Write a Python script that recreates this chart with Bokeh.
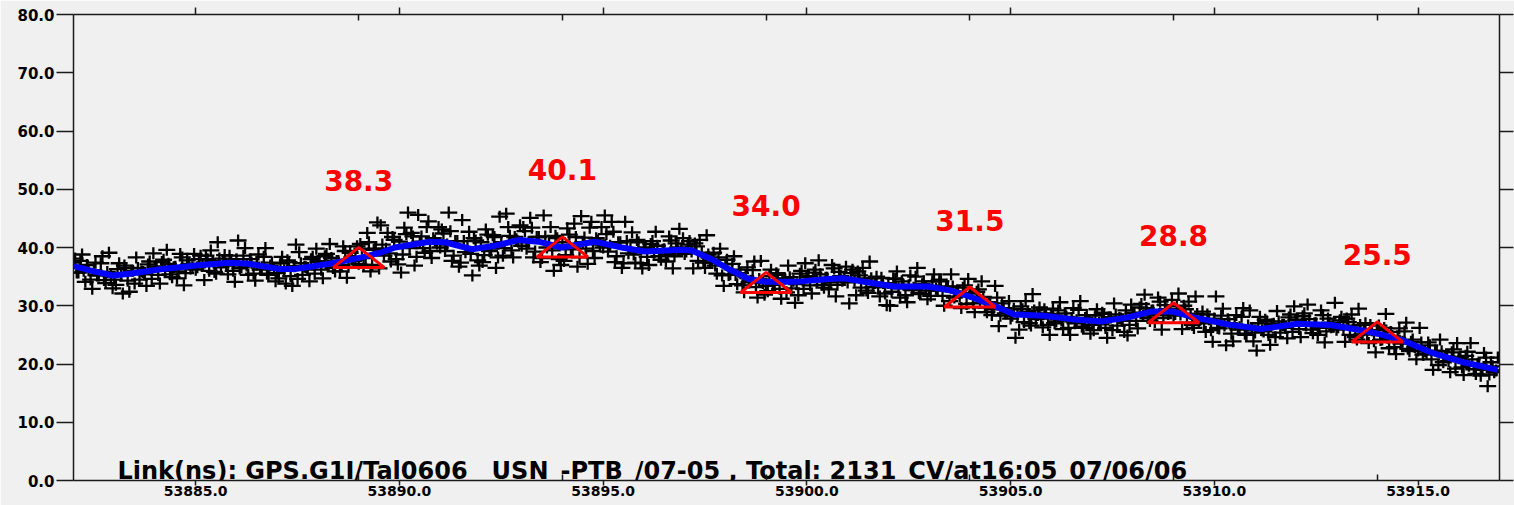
import math
from bokeh.plotting import figure
from bokeh.models import Range1d, LinearAxis, FixedTicker, PrintfTickFormatter, ColumnDataSource
from bokeh.core.properties import value
from bokeh.embed import file_html
from bokeh.resources import INLINE

# ---------------- data ----------------
X_START, X_END = 53882.0, 53917.0
Y_START, Y_END = 0.0, 80.0
X_TICKS = [53885, 53890, 53895, 53900, 53905, 53910, 53915]
Y_TICKS = [0, 10, 20, 30, 40, 50, 60, 70, 80]

TITLE = "Link(ns): GPS.G1I/Tal0606__USN_-PTB_/07-05 , Total: 2131_CV/at16:05_07/06/06"

# smoothed (blue) curve
CURVE_X = [53882.0, 53882.5, 53882.96, 53883.37, 53884.18, 53885.0, 53885.82, 53886.3, 53887.05, 53887.44,
           53888.28, 53889.08, 53889.57, 53889.89, 53890.73, 53891.12, 53891.78, 53892.34, 53892.93, 53893.42,
           53893.98, 53894.79, 53895.46, 53896.02, 53896.93, 53897.17, 53897.66, 53898.08, 53898.57, 53899.01,
           53899.7, 53900.53, 53900.92, 53901.51, 53902.15, 53902.98, 53903.54, 53904.03, 53904.6, 53905.09,
           53905.82, 53906.49, 53907.22, 53907.88, 53908.45, 53908.99, 53909.5, 53910.33, 53911.14, 53912.05,
           53912.86, 53913.67, 53914.01, 53914.65, 53915.31, 53916.12, 53916.95]
CURVE_Y = [36.8, 35.9, 35.2, 35.5, 36.3, 36.9, 37.4, 37.2, 36.3, 36.3,
           37.2, 38.3, 39.2, 40.0, 41.0, 40.9, 39.7, 40.3, 41.3, 41.0,
           40.0, 41.0, 40.0, 39.3, 39.6, 39.5, 38.0, 36.3, 34.6, 34.1,
           34.1, 34.6, 34.7, 34.0, 33.3, 33.3, 32.6, 31.5, 30.0, 28.5,
           28.3, 27.7, 27.3, 28.0, 29.0, 29.0, 28.0, 26.8, 26.0, 26.9,
           26.7, 25.7, 25.2, 24.0, 22.0, 20.3, 19.0]

# individual common-view measurements (black crosses), first batch
CV_X_A = [
    53882.04, 53882.12, 53882.21, 53882.29, 53882.37, 53882.46, 53882.54, 53882.62, 53882.71, 53882.79, 53882.87, 53882.96,
    53883.04, 53883.12, 53883.21, 53883.29, 53883.37, 53883.46, 53883.54, 53883.62, 53883.71, 53883.79, 53883.87, 53883.96,
    53884.04, 53884.12, 53884.21, 53884.29, 53884.37, 53884.46, 53884.54, 53884.62, 53884.71, 53884.79, 53884.87, 53884.96,
    53885.04, 53885.12, 53885.21, 53885.29, 53885.37, 53885.46, 53885.54, 53885.62, 53885.71, 53885.79, 53885.87, 53885.96,
    53886.04, 53886.12, 53886.21, 53886.29, 53886.37, 53886.46, 53886.54, 53886.62, 53886.71, 53886.79, 53886.87, 53886.96,
    53887.04, 53887.12, 53887.21, 53887.29, 53887.37, 53887.46, 53887.54, 53887.62, 53887.71, 53887.79, 53887.87, 53887.96,
    53888.04, 53888.12, 53888.21, 53888.29, 53888.37, 53888.46, 53888.54, 53888.62, 53888.71, 53888.79, 53888.87, 53888.96,
    53889.04, 53889.12, 53889.21, 53889.29, 53889.37, 53889.46, 53889.54, 53889.62, 53889.71, 53889.79, 53889.87, 53889.96,
    53890.04, 53890.12, 53890.21, 53890.29, 53890.37, 53890.46, 53890.54, 53890.62, 53890.71, 53890.79, 53890.87, 53890.96,
    53891.04, 53891.12, 53891.21, 53891.29, 53891.37, 53891.46, 53891.54, 53891.62, 53891.71, 53891.79, 53891.87, 53891.96,
    53892.04, 53892.12, 53892.21, 53892.29, 53892.37, 53892.46, 53892.54, 53892.62, 53892.71, 53892.79, 53892.87, 53892.96,
    53893.04, 53893.12, 53893.21, 53893.29, 53893.37, 53893.46, 53893.54, 53893.62, 53893.71, 53893.79, 53893.87, 53893.96,
    53894.04, 53894.12, 53894.21, 53894.29, 53894.37, 53894.46, 53894.54, 53894.62, 53894.71, 53894.79, 53894.87, 53894.96,
    53895.04, 53895.12, 53895.21, 53895.29, 53895.37, 53895.46, 53895.54, 53895.62, 53895.71, 53895.79, 53895.87, 53895.96,
    53896.04, 53896.12, 53896.21, 53896.29, 53896.37, 53896.46, 53896.54, 53896.62, 53896.71, 53896.79, 53896.87, 53896.96,
    53897.04, 53897.12, 53897.21, 53897.29, 53897.37, 53897.46, 53897.54, 53897.62, 53897.71, 53897.79, 53897.87, 53897.96,
    53898.04, 53898.12, 53898.21, 53898.29, 53898.37, 53898.46, 53898.54, 53898.62, 53898.71, 53898.79, 53898.87, 53898.96,
    53899.04, 53899.12, 53899.21, 53899.29, 53899.37, 53899.46, 53899.54, 53899.62, 53899.71, 53899.79, 53899.87, 53899.96,
    53900.04, 53900.12, 53900.21, 53900.29, 53900.37, 53900.46, 53900.54, 53900.62, 53900.71, 53900.79, 53900.87, 53900.96,
    53901.04, 53901.12, 53901.21, 53901.29, 53901.37, 53901.46, 53901.54, 53901.62, 53901.71, 53901.79, 53901.87, 53901.96,
    53902.04, 53902.12, 53902.21, 53902.29, 53902.37, 53902.46, 53902.54, 53902.62, 53902.71, 53902.79, 53902.87, 53902.96,
    53903.04, 53903.12, 53903.21, 53903.29, 53903.37, 53903.46, 53903.54, 53903.62, 53903.71, 53903.79, 53903.87, 53903.96,
    53904.04, 53904.12, 53904.21, 53904.29, 53904.37, 53904.46, 53904.54, 53904.62, 53904.71, 53904.79, 53904.87, 53904.96,
    53905.04, 53905.12, 53905.21, 53905.29, 53905.37, 53905.46, 53905.54, 53905.62, 53905.71, 53905.79, 53905.87, 53905.96,
    53906.04, 53906.12, 53906.21, 53906.29, 53906.37, 53906.46, 53906.54, 53906.62, 53906.71, 53906.79, 53906.87, 53906.96,
    53907.04, 53907.12, 53907.21, 53907.29, 53907.37, 53907.46, 53907.54, 53907.62, 53907.71, 53907.79, 53907.87, 53907.96,
    53908.04, 53908.12, 53908.21, 53908.29, 53908.37, 53908.46, 53908.54, 53908.62, 53908.71, 53908.79, 53908.87, 53908.96,
    53909.04, 53909.12, 53909.21, 53909.29, 53909.37, 53909.46, 53909.54, 53909.62, 53909.71, 53909.79, 53909.87, 53909.96,
    53910.04, 53910.12, 53910.21, 53910.29, 53910.37, 53910.46, 53910.54, 53910.62, 53910.71, 53910.79, 53910.87, 53910.96,
    53911.04, 53911.12, 53911.21, 53911.29, 53911.37, 53911.46, 53911.54, 53911.62, 53911.71, 53911.79, 53911.87, 53911.96,
    53912.04, 53912.12, 53912.21, 53912.29, 53912.37, 53912.46, 53912.54, 53912.62, 53912.71, 53912.79, 53912.87, 53912.96,
    53913.04, 53913.12, 53913.21, 53913.29, 53913.37, 53913.46, 53913.54, 53913.62, 53913.71, 53913.79, 53913.87, 53913.96,
    53914.04, 53914.12, 53914.21, 53914.29, 53914.37, 53914.46, 53914.54, 53914.62, 53914.71, 53914.79, 53914.87, 53914.96,
    53915.04, 53915.12, 53915.21, 53915.29, 53915.37, 53915.46, 53915.54, 53915.62, 53915.71, 53915.79, 53915.87, 53915.96,
    53916.04, 53916.12, 53916.21, 53916.29, 53916.37, 53916.46, 53916.54, 53916.62, 53916.71, 53916.79, 53916.87, 53916.96,
]
CV_Y_A = [
    38.1, 35.7, 38.8, 34.1, 36.1, 32.9, 37.4, 35.2, 38.5, 33.9, 39.1, 33.0,
    33.6, 37.3, 32.1, 36.5, 32.4, 36.0, 38.3, 34.5, 35.8, 33.4, 37.6, 39.0,
    36.7, 33.8, 37.9, 39.6, 35.4, 36.6, 34.7, 38.9, 33.5, 37.8, 36.4, 38.9,
    36.6, 38.6, 34.4, 38.0, 39.5, 35.8, 40.9, 36.6, 38.7, 35.4, 37.8, 34.1,
    41.2, 36.6, 39.9, 35.3, 37.4, 34.3, 38.8, 36.6, 39.9, 35.3, 37.4, 34.2,
    34.7, 38.4, 33.8, 37.5, 33.4, 40.5, 39.2, 35.3, 36.6, 34.2, 38.4, 39.8,
    37.6, 34.7, 38.9, 40.6, 36.5, 37.7, 35.9, 40.2, 34.8, 39.1, 37.7, 40.2,
    40.6, 37.0, 42.5, 35.9, 39.6, 44.3, 43.8, 38.6, 42.5, 37.6, 41.3, 37.1,
    35.7, 43.4, 46.0, 42.5, 36.9, 45.6, 41.9, 39.1, 44.5, 38.2, 41.2, 43.5,
    43.1, 39.4, 46.0, 37.7, 41.1, 36.7, 44.7, 39.2, 42.7, 35.2, 41.2, 36.9,
    37.5, 43.1, 39.4, 42.1, 36.5, 45.3, 38.6, 45.8, 42.0, 38.3, 41.4, 43.8,
    43.5, 39.8, 45.1, 38.3, 41.8, 37.5, 45.5, 40.0, 43.5, 36.0, 41.6, 37.0,
    37.7, 43.3, 39.7, 44.1, 36.7, 45.4, 41.7, 37.2, 44.4, 38.2, 41.2, 43.5,
    45.5, 39.3, 44.4, 37.5, 40.9, 36.5, 44.4, 39.0, 42.6, 37.4, 40.9, 36.4,
    40.0, 37.0, 41.1, 42.7, 38.5, 39.6, 37.6, 41.9, 36.4, 40.7, 43.2, 41.6,
    39.3, 41.1, 36.4, 40.2, 41.3, 37.4, 42.1, 37.4, 39.1, 35.5, 39.8, 33.4,
    37.9, 35.4, 38.5, 33.7, 35.6, 32.3, 36.6, 34.3, 37.6, 31.4, 37.7, 31.9,
    32.5, 36.2, 33.6, 35.3, 31.2, 34.7, 36.9, 33.0, 30.5, 31.8, 36.0, 37.3,
    35.1, 32.1, 36.2, 37.8, 33.6, 34.8, 32.8, 37.0, 31.6, 35.8, 34.3, 36.7,
    30.4, 36.2, 31.8, 35.2, 36.5, 32.6, 37.6, 33.2, 35.0, 31.6, 33.9, 30.1,
    30.0, 34.7, 35.9, 31.4, 33.6, 30.6, 35.2, 33.1, 36.5, 32.0, 34.2, 31.1,
    31.7, 35.4, 32.6, 34.2, 30.0, 33.3, 35.4, 31.4, 32.3, 29.6, 33.5, 34.6,
    32.2, 28.9, 32.8, 34.2, 29.7, 30.6, 28.4, 33.4, 26.5, 30.4, 28.7, 30.8,
    28.3, 24.5, 25.9, 29.4, 30.8, 27.0, 32.0, 27.7, 29.7, 26.3, 28.7, 25.0,
    29.5, 27.3, 30.6, 26.0, 28.1, 25.0, 29.6, 27.5, 30.8, 26.2, 28.4, 25.2,
    25.8, 29.4, 26.8, 28.6, 24.5, 28.0, 30.4, 26.6, 27.8, 25.5, 24.9, 30.2,
    28.8, 26.1, 30.3, 31.9, 27.9, 29.2, 27.2, 31.4, 25.9, 30.1, 28.6, 31.0,
    28.6, 32.1, 26.0, 29.4, 30.7, 26.7, 31.6, 27.1, 29.0, 25.5, 27.7, 23.8,
    31.6, 26.1, 29.5, 23.2, 27.0, 23.9, 28.4, 26.3, 29.6, 25.0, 29.2, 23.9,
    22.3, 28.1, 25.6, 27.3, 23.3, 26.9, 29.1, 25.4, 26.7, 24.4, 28.5, 29.9,
    27.6, 24.6, 28.7, 30.2, 25.9, 27.0, 25.0, 29.2, 23.7, 27.8, 26.3, 30.5,
    26.3, 28.1, 23.8, 27.2, 28.5, 24.6, 29.5, 25.1, 27.0, 23.6, 25.8, 22.0,
    26.6, 24.2, 28.6, 22.7, 24.8, 21.7, 26.1, 23.8, 27.1, 22.2, 24.2, 20.8,
    26.2, 21.6, 21.8, 23.2, 19.0, 22.2, 24.2, 20.3, 21.3, 18.6, 22.5, 23.6,
    21.2, 18.1, 22.1, 23.6, 19.1, 20.0, 18.0, 21.9, 16.2, 20.3, 18.6, 21.1,
]

# second batch of measurements (dense core of the band)
CV_X_B = [
    53882.00, 53882.08, 53882.17, 53882.25, 53882.33, 53882.42, 53882.50, 53882.58, 53882.67, 53882.75, 53882.83, 53882.92,
    53883.00, 53883.08, 53883.17, 53883.25, 53883.33, 53883.42, 53883.50, 53883.58, 53883.67, 53883.75, 53883.83, 53883.92,
    53884.00, 53884.08, 53884.17, 53884.25, 53884.33, 53884.42, 53884.50, 53884.58, 53884.67, 53884.75, 53884.83, 53884.92,
    53885.00, 53885.08, 53885.17, 53885.25, 53885.33, 53885.42, 53885.50, 53885.58, 53885.67, 53885.75, 53885.83, 53885.92,
    53886.00, 53886.08, 53886.17, 53886.25, 53886.33, 53886.42, 53886.50, 53886.58, 53886.67, 53886.75, 53886.83, 53886.92,
    53887.00, 53887.08, 53887.17, 53887.25, 53887.33, 53887.42, 53887.50, 53887.58, 53887.67, 53887.75, 53887.83, 53887.92,
    53888.00, 53888.08, 53888.17, 53888.25, 53888.33, 53888.42, 53888.50, 53888.58, 53888.67, 53888.75, 53888.83, 53888.92,
    53889.00, 53889.08, 53889.17, 53889.25, 53889.33, 53889.42, 53889.50, 53889.58, 53889.67, 53889.75, 53889.83, 53889.92,
    53890.00, 53890.08, 53890.17, 53890.25, 53890.33, 53890.42, 53890.50, 53890.58, 53890.67, 53890.75, 53890.83, 53890.92,
    53891.00, 53891.08, 53891.17, 53891.25, 53891.33, 53891.42, 53891.50, 53891.58, 53891.67, 53891.75, 53891.83, 53891.92,
    53892.00, 53892.08, 53892.17, 53892.25, 53892.33, 53892.42, 53892.50, 53892.58, 53892.67, 53892.75, 53892.83, 53892.92,
    53893.00, 53893.08, 53893.17, 53893.25, 53893.33, 53893.42, 53893.50, 53893.58, 53893.67, 53893.75, 53893.83, 53893.92,
    53894.00, 53894.08, 53894.17, 53894.25, 53894.33, 53894.42, 53894.50, 53894.58, 53894.67, 53894.75, 53894.83, 53894.92,
    53895.00, 53895.08, 53895.17, 53895.25, 53895.33, 53895.42, 53895.50, 53895.58, 53895.67, 53895.75, 53895.83, 53895.92,
    53896.00, 53896.08, 53896.17, 53896.25, 53896.33, 53896.42, 53896.50, 53896.58, 53896.67, 53896.75, 53896.83, 53896.92,
    53897.00, 53897.08, 53897.17, 53897.25, 53897.33, 53897.42, 53897.50, 53897.58, 53897.67, 53897.75, 53897.83, 53897.92,
    53898.00, 53898.08, 53898.17, 53898.25, 53898.33, 53898.42, 53898.50, 53898.58, 53898.67, 53898.75, 53898.83, 53898.92,
    53899.00, 53899.08, 53899.17, 53899.25, 53899.33, 53899.42, 53899.50, 53899.58, 53899.67, 53899.75, 53899.83, 53899.92,
    53900.00, 53900.08, 53900.17, 53900.25, 53900.33, 53900.42, 53900.50, 53900.58, 53900.67, 53900.75, 53900.83, 53900.92,
    53901.00, 53901.08, 53901.17, 53901.25, 53901.33, 53901.42, 53901.50, 53901.58, 53901.67, 53901.75, 53901.83, 53901.92,
    53902.00, 53902.08, 53902.17, 53902.25, 53902.33, 53902.42, 53902.50, 53902.58, 53902.67, 53902.75, 53902.83, 53902.92,
    53903.00, 53903.08, 53903.17, 53903.25, 53903.33, 53903.42, 53903.50, 53903.58, 53903.67, 53903.75, 53903.83, 53903.92,
    53904.00, 53904.08, 53904.17, 53904.25, 53904.33, 53904.42, 53904.50, 53904.58, 53904.67, 53904.75, 53904.83, 53904.92,
    53905.00, 53905.08, 53905.17, 53905.25, 53905.33, 53905.42, 53905.50, 53905.58, 53905.67, 53905.75, 53905.83, 53905.92,
    53906.00, 53906.08, 53906.17, 53906.25, 53906.33, 53906.42, 53906.50, 53906.58, 53906.67, 53906.75, 53906.83, 53906.92,
    53907.00, 53907.08, 53907.17, 53907.25, 53907.33, 53907.42, 53907.50, 53907.58, 53907.67, 53907.75, 53907.83, 53907.92,
    53908.00, 53908.08, 53908.17, 53908.25, 53908.33, 53908.42, 53908.50, 53908.58, 53908.67, 53908.75, 53908.83, 53908.92,
    53909.00, 53909.08, 53909.17, 53909.25, 53909.33, 53909.42, 53909.50, 53909.58, 53909.67, 53909.75, 53909.83, 53909.92,
    53910.00, 53910.08, 53910.17, 53910.25, 53910.33, 53910.42, 53910.50, 53910.58, 53910.67, 53910.75, 53910.83, 53910.92,
    53911.00, 53911.08, 53911.17, 53911.25, 53911.33, 53911.42, 53911.50, 53911.58, 53911.67, 53911.75, 53911.83, 53911.92,
    53912.00, 53912.08, 53912.17, 53912.25, 53912.33, 53912.42, 53912.50, 53912.58, 53912.67, 53912.75, 53912.83, 53912.92,
    53913.00, 53913.08, 53913.17, 53913.25, 53913.33, 53913.42, 53913.50, 53913.58, 53913.67, 53913.75, 53913.83, 53913.92,
    53914.00, 53914.08, 53914.17, 53914.25, 53914.33, 53914.42, 53914.50, 53914.58, 53914.67, 53914.75, 53914.83, 53914.92,
    53915.00, 53915.08, 53915.17, 53915.25, 53915.33, 53915.42, 53915.50, 53915.58, 53915.67, 53915.75, 53915.83, 53915.92,
    53916.00, 53916.08, 53916.17, 53916.25, 53916.33, 53916.42, 53916.50, 53916.58, 53916.67, 53916.75, 53916.83, 53916.92,
]
CV_Y_B = [
    37.4, 35.7, 37.7, 36.0, 37.0, 34.5, 36.1, 35.2, 37.3, 34.4, 35.8, 35.1,
    34.5, 36.3, 35.2, 36.9, 34.3, 36.0, 33.8, 36.5, 35.9, 35.4, 37.1, 34.6,
    36.7, 35.3, 37.5, 36.0, 37.2, 34.9, 36.7, 35.9, 38.3, 35.6, 37.2, 36.6,
    36.2, 38.0, 36.9, 38.6, 36.0, 37.7, 35.5, 38.1, 37.5, 36.9, 38.6, 36.0,
    38.0, 36.4, 38.6, 36.9, 38.0, 35.5, 37.1, 36.2, 38.4, 35.5, 36.9, 36.2,
    35.6, 37.3, 36.1, 37.8, 35.1, 36.8, 34.6, 37.3, 36.7, 36.2, 38.0, 35.5,
    37.6, 36.2, 38.5, 36.9, 38.2, 35.9, 37.7, 37.0, 39.4, 36.7, 38.3, 37.9,
    37.2, 39.8, 38.2, 40.9, 37.0, 39.8, 36.4, 40.5, 39.8, 39.0, 41.8, 38.0,
    41.0, 38.8, 42.3, 39.9, 41.9, 38.4, 41.0, 39.9, 43.5, 39.4, 41.6, 40.7,
    40.0, 42.4, 40.5, 42.8, 38.6, 41.1, 37.4, 41.1, 40.0, 38.9, 41.6, 37.8,
    40.9, 38.7, 42.2, 39.8, 41.8, 38.3, 40.9, 39.9, 43.5, 39.5, 41.8, 41.0,
    40.3, 42.8, 40.9, 43.4, 39.3, 41.8, 38.2, 41.9, 40.7, 39.5, 42.0, 38.0,
    40.9, 38.7, 42.2, 39.8, 41.8, 38.3, 40.9, 39.8, 43.4, 39.4, 41.6, 40.5,
    40.0, 42.3, 40.3, 42.7, 38.5, 40.9, 37.3, 41.1, 39.9, 38.8, 41.3, 37.3,
    39.9, 38.4, 40.6, 39.1, 40.3, 37.9, 39.7, 38.9, 41.2, 38.5, 40.0, 39.4,
    38.9, 40.5, 39.3, 40.7, 37.7, 39.1, 36.5, 38.8, 37.8, 36.9, 38.3, 35.2,
    37.1, 35.3, 37.2, 35.3, 36.2, 33.5, 35.0, 34.0, 36.1, 33.2, 34.6, 33.9,
    33.4, 35.1, 33.9, 35.6, 32.9, 34.6, 32.3, 34.9, 34.3, 33.7, 35.5, 32.9,
    34.9, 33.5, 35.7, 34.2, 35.4, 33.1, 34.8, 34.0, 36.4, 33.6, 35.1, 34.5,
    34.0, 35.6, 34.3, 35.9, 33.1, 34.7, 32.2, 34.7, 33.9, 33.2, 34.8, 32.1,
    33.9, 32.4, 34.6, 33.0, 34.2, 31.8, 33.5, 32.7, 35.0, 32.2, 33.7, 33.1,
    32.6, 34.2, 32.9, 34.5, 31.7, 33.3, 30.8, 33.3, 32.4, 31.6, 33.1, 30.3,
    32.1, 30.4, 32.4, 30.5, 31.5, 28.9, 30.4, 29.4, 31.4, 28.3, 29.6, 28.7,
    27.8, 29.5, 28.3, 29.9, 27.2, 28.9, 26.6, 29.2, 28.4, 27.8, 29.4, 26.7,
    28.6, 27.0, 29.2, 27.5, 28.7, 26.2, 27.9, 27.0, 29.3, 26.4, 27.9, 27.2,
    26.7, 28.3, 27.1, 28.8, 26.2, 28.0, 25.8, 28.5, 27.9, 27.4, 29.2, 26.7,
    28.7, 27.4, 29.7, 28.3, 29.6, 27.4, 29.2, 28.4, 30.7, 27.9, 29.4, 28.8,
    28.3, 29.9, 28.5, 30.0, 27.1, 28.6, 26.2, 28.6, 27.7, 27.0, 28.5, 25.8,
    27.8, 26.2, 28.3, 26.6, 27.7, 25.2, 26.8, 25.9, 28.1, 25.2, 26.6, 25.9,
    25.4, 27.0, 25.8, 27.6, 25.0, 26.8, 24.6, 27.3, 26.7, 26.2, 28.0, 25.5,
    27.5, 26.0, 28.2, 26.6, 27.7, 25.3, 27.0, 26.2, 28.4, 25.6, 27.1, 26.4,
    25.9, 27.5, 26.2, 27.8, 25.0, 26.6, 24.2, 26.7, 25.8, 25.1, 26.7, 23.9,
    25.8, 24.1, 26.2, 24.5, 25.5, 22.9, 24.5, 23.5, 25.6, 22.6, 23.8, 22.9,
    22.3, 23.7, 22.2, 23.7, 20.8, 22.3, 19.8, 22.2, 21.3, 20.5, 22.0, 19.2,
    21.0, 19.4, 21.4, 19.7, 20.8, 18.3, 19.9, 19.0, 21.1, 18.2, 19.6, 18.9,
]

# marked 5-day mean values (red triangles + labels)
MARK_X = [53889.0, 53894.0, 53899.0, 53904.0, 53909.0, 53914.0]
MARK_Y = [38.3, 40.1, 34.0, 31.5, 28.8, 25.5]
MARK_TEXT = ["38.3", "40.1", "34.0", "31.5", "28.8", "25.5"]

# ---------------- style ----------------
BG = "#f0f0f0"
AXIS_COLOR = "#1a1a1a"
FONT = "DejaVu Sans"
TRI_HALF_W = 0.625   # days  (marker half width)
TRI_HALF_H = 1.72    # ns    (marker half height)

p = figure(width=1514, height=505,
           x_range=Range1d(X_START, X_END), y_range=Range1d(Y_START, Y_END),
           output_backend="svg", toolbar_location=None,
           x_axis_location=None, y_axis_location=None,
           min_border_left=73, min_border_right=15, min_border_top=14, min_border_bottom=25,
           background_fill_color=BG, border_fill_color=BG)
p.xgrid.visible = False
p.ygrid.visible = False
p.outline_line_color = None

x_ticker = FixedTicker(ticks=X_TICKS, minor_ticks=MARK_X)
y_ticker = FixedTicker(ticks=Y_TICKS, minor_ticks=[])

def style_axis(ax):
    ax.axis_line_color = AXIS_COLOR
    ax.axis_line_width = 1.5
    ax.major_tick_line_color = AXIS_COLOR
    ax.major_tick_line_width = 1.5
    ax.minor_tick_line_color = AXIS_COLOR
    ax.minor_tick_line_width = 1.5
    ax.major_label_text_font = FONT
    ax.major_label_text_font_style = "bold"
    ax.major_label_text_color = "black"

def hide_labels(ax):
    ax.formatter = PrintfTickFormatter(format="")
    ax.major_label_text_font_size = "1px"
    ax.major_label_text_color = None
    ax.major_label_standoff = 0

bottom = LinearAxis(ticker=x_ticker, formatter=PrintfTickFormatter(format="%.1f"),
                    major_tick_in=0, major_tick_out=5, minor_tick_in=6, minor_tick_out=0,
                    major_label_standoff=0)
style_axis(bottom)
bottom.major_label_text_font_size = "14px"
p.add_layout(bottom, "below")

top = LinearAxis(ticker=x_ticker, major_tick_in=0, major_tick_out=7, minor_tick_in=6, minor_tick_out=0)
style_axis(top)
hide_labels(top)
p.add_layout(top, "above")

left = LinearAxis(ticker=y_ticker, formatter=PrintfTickFormatter(format="%.1f"),
                  major_tick_in=0, major_tick_out=17, minor_tick_in=0, minor_tick_out=0,
                  major_label_standoff=2)
style_axis(left)
left.major_label_text_font_size = "15px"
p.add_layout(left, "left")

right = LinearAxis(ticker=y_ticker, major_tick_in=0, major_tick_out=14, minor_tick_in=0, minor_tick_out=0)
style_axis(right)
hide_labels(right)
p.add_layout(right, "right")

# crosses: wide horizontal bar + shorter vertical bar
src = ColumnDataSource(dict(x=CV_X_A + CV_X_B, y=CV_Y_A + CV_Y_B))
p.scatter("x", "y", source=src, marker="dash", size=17, line_color="black", line_width=2.3)
p.scatter("x", "y", source=src, marker="dash", size=12, angle=math.pi / 2, line_color="black", line_width=2.3)

# smoothed curve
p.line(CURVE_X, CURVE_Y, line_color="#0000ff", line_width=6, line_join="round")

# triangles
tri_xs = [[mx - TRI_HALF_W, mx, mx + TRI_HALF_W] for mx in MARK_X]
tri_ys = [[my - TRI_HALF_H, my + TRI_HALF_H, my - TRI_HALF_H] for my in MARK_Y]
p.patches(tri_xs, tri_ys, fill_alpha=0, line_color="#ff0000", line_width=3)

# value labels
p.text(MARK_X, MARK_Y, text=MARK_TEXT, y_offset=-77, text_align="center", text_baseline="middle",
       text_color="#ff0000", text_font=value(FONT), text_font_style="bold", text_font_size="28px")

# link description text inside the plot, along the bottom
p.text(x=[X_START], y=[Y_START], text=[TITLE], x_offset=44, y_offset=-10,
       text_align="left", text_baseline="alphabetic", text_color="black",
       text_font=value(FONT), text_font_style="bold", text_font_size="24px")

open("out.html", "w").write(file_html(p, INLINE))
